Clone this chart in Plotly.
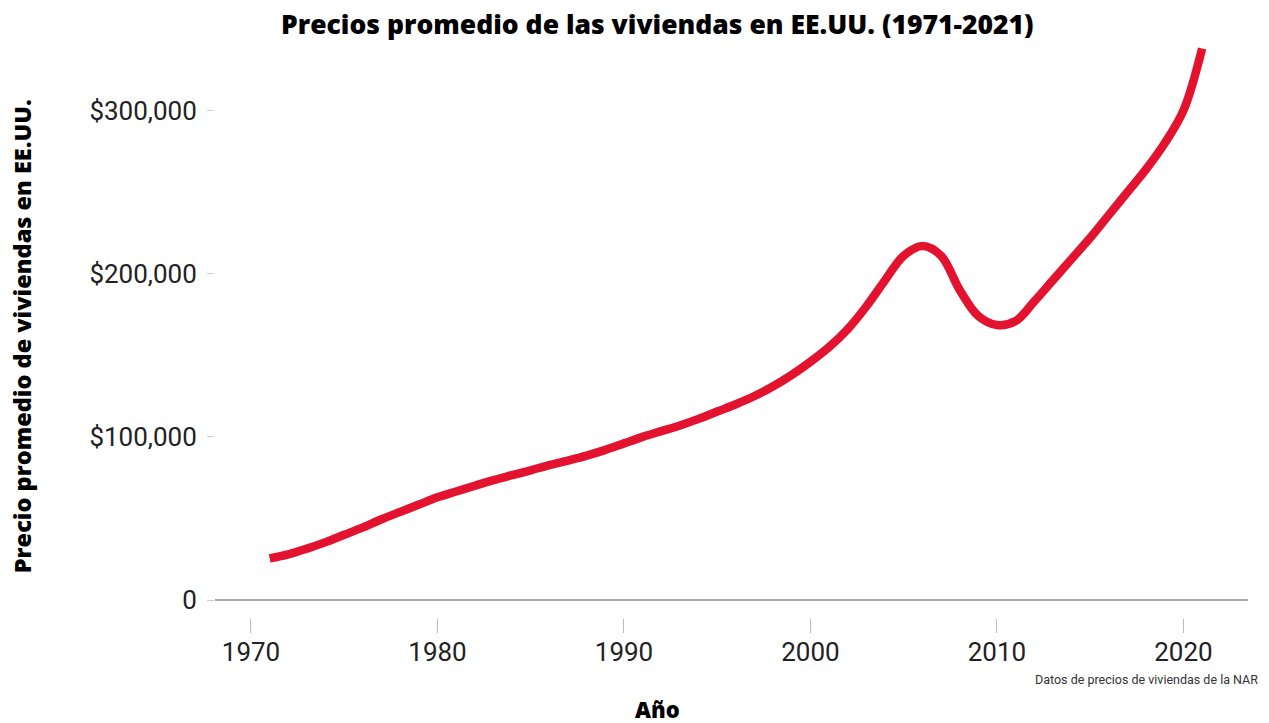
import plotly.graph_objects as go

years = list(range(1971, 2022))
prices = [25500, 28000, 31500, 35500, 40000, 44500, 49500, 54000, 58500, 63000,
          66500, 70000, 73500, 76500, 79500, 82700, 85500, 88500, 92000, 96000,
          100000, 103500, 107000, 111000, 115500, 120000, 125000, 131000, 138000, 146000,
          155000, 166000, 180000, 196000, 211000, 217000, 211000, 190000, 174000, 168500,
          171000, 183000, 196000, 209000, 222000, 236000, 250000, 264000, 280000, 300000,
          338000]

x_ticks = [1970, 1980, 1990, 2000, 2010, 2020]
y_ticks = [0, 100000, 200000, 300000]
y_tick_labels = ["0", "$100,000", "$200,000", "$300,000"]

title_text = "Precios promedio de las viviendas en EE.UU. (1971-2021)"
y_title = "Precio promedio de viviendas en EE.UU."
x_title = "Año"
source_text = "Datos de precios de viviendas de la NAR"

fig = go.Figure()
fig.add_trace(go.Scatter(
    x=years, y=prices, mode="lines",
    line=dict(color="#E3122F", width=8.5, shape="spline", smoothing=1.0),
    hoverinfo="x+y", showlegend=False,
))

fig.update_layout(
    width=1269, height=723,
    margin=dict(l=215, r=21, t=37, b=105),
    paper_bgcolor="white", plot_bgcolor="white",
    font=dict(family="Roboto", color="#222222"),
    xaxis=dict(
        range=[1968.07, 2023.46], tickmode="array", tickvals=x_ticks,
        ticktext=[str(v) for v in x_ticks],
        showgrid=False, zeroline=False, showline=False,
        ticks="outside", ticklen=14, tickcolor="#bbbbbb", tickwidth=1,
        ticklabelstandoff=-3,
        tickfont=dict(family="Roboto", size=26, color="#222222"),
    ),
    yaxis=dict(
        range=[-11000, 345000], tickmode="array", tickvals=y_ticks,
        ticktext=y_tick_labels,
        showgrid=False, showline=False,
        zeroline=True, zerolinecolor="#aaaaaa", zerolinewidth=1.5,
        ticks="outside", ticklen=7, tickcolor="#cccccc", tickwidth=1,
        ticklabelstandoff=5,
        tickfont=dict(family="Roboto", size=26, color="#222222"),
    ),
    annotations=[
        dict(text=title_text, xref="paper", yref="paper", x=0.4279, y=1.0224,
             xanchor="center", yanchor="middle", showarrow=False, borderpad=0,
             font=dict(family="Open Sans", size=26.5, color="#000000", weight=800)),
        dict(text=y_title, xref="paper", yref="paper", x=-0.1868, y=0.485,
             xanchor="center", yanchor="middle", showarrow=False, textangle=-90,
             borderpad=0,
             font=dict(family="Open Sans", size=23.5, color="#000000", weight=800)),
        dict(text=x_title, xref="paper", yref="paper", x=0.4279, y=-0.156,
             xanchor="center", yanchor="middle", showarrow=False, borderpad=0,
             font=dict(family="Open Sans", size=22, color="#000000", weight=800)),
        dict(text=source_text, xref="paper", yref="paper", x=1.0116, y=-0.105,
             xanchor="right", yanchor="middle", showarrow=False,
             font=dict(family="Roboto", size=12.5, color="#333333")),
    ],
)

fig.write_html(
    "out.html",
    config={"displayModeBar": False},
    post_script="document.body.style.margin='0';document.body.style.overflow='hidden';",
)
